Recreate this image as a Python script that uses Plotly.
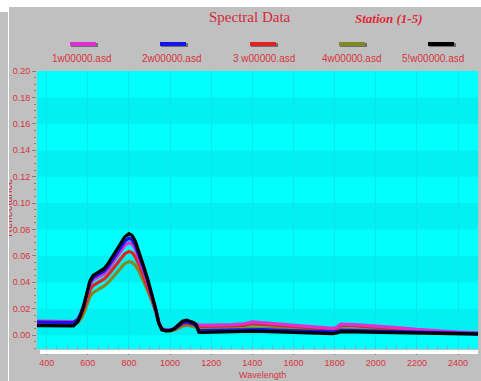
import plotly.graph_objects as go

# Wavelength grid (nm) shared by all five spectra
wavelength = [353, 400, 450, 500, 530, 550, 565, 580, 595, 610, 625, 640, 660, 680,
              700, 720, 740, 760, 780, 800, 815, 830, 850, 870, 890, 910, 930, 945,
              960, 980, 1000, 1020, 1040, 1060, 1080, 1100, 1115, 1128, 1140, 1160,
              1200, 1300, 1360, 1400, 1450, 1500, 1600, 1700, 1790, 1810, 1830, 1900,
              2000, 2100, 2200, 2300, 2400, 2497]

refl_1 = [0.0106, 0.0105, 0.0103, 0.0100, 0.0102, 0.0118, 0.0160, 0.0220, 0.0300, 0.0380,
          0.0418, 0.0430, 0.0443, 0.0465, 0.0500, 0.0545, 0.0595, 0.0642, 0.0680, 0.0700,
          0.0690, 0.0655, 0.0580, 0.0490, 0.0400, 0.0300, 0.0190, 0.0095, 0.0048, 0.0040,
          0.0040, 0.0050, 0.0070, 0.0092, 0.0100, 0.0095, 0.0090, 0.0085, 0.0078, 0.0076,
          0.0076, 0.0080, 0.0086, 0.0100, 0.0094, 0.0088, 0.0077, 0.0064, 0.0052, 0.0060,
          0.0084, 0.0080, 0.0071, 0.0057, 0.0043, 0.0031, 0.0023, 0.0018]

refl_2 = [0.0098, 0.0097, 0.0095, 0.0093, 0.0095, 0.0115, 0.0160, 0.0225, 0.0310, 0.0395,
          0.0435, 0.0448, 0.0462, 0.0485, 0.0522, 0.0570, 0.0622, 0.0672, 0.0712, 0.0735,
          0.0722, 0.0685, 0.0605, 0.0510, 0.0415, 0.0310, 0.0195, 0.0095, 0.0045, 0.0036,
          0.0036, 0.0046, 0.0068, 0.0092, 0.0100, 0.0093, 0.0085, 0.0068, 0.0035, 0.0034,
          0.0035, 0.0037, 0.0039, 0.0043, 0.0041, 0.0038, 0.0032, 0.0028, 0.0024, 0.0026,
          0.0036, 0.0035, 0.0031, 0.0026, 0.0021, 0.0017, 0.0014, 0.0012]

refl_3 = [0.0092, 0.0091, 0.0090, 0.0088, 0.0090, 0.0105, 0.0140, 0.0195, 0.0265, 0.0340,
          0.0375, 0.0388, 0.0402, 0.0425, 0.0458, 0.0498, 0.0542, 0.0585, 0.0617, 0.0633,
          0.0625, 0.0595, 0.0530, 0.0450, 0.0370, 0.0280, 0.0180, 0.0095, 0.0048, 0.0038,
          0.0038, 0.0046, 0.0063, 0.0082, 0.0090, 0.0086, 0.0080, 0.0074, 0.0068, 0.0066,
          0.0066, 0.0069, 0.0074, 0.0086, 0.0081, 0.0076, 0.0066, 0.0055, 0.0045, 0.0052,
          0.0073, 0.0069, 0.0061, 0.0049, 0.0037, 0.0027, 0.0020, 0.0016]

refl_4 = [0.0085, 0.0084, 0.0082, 0.0080, 0.0081, 0.0092, 0.0120, 0.0165, 0.0225, 0.0290,
          0.0322, 0.0335, 0.0350, 0.0372, 0.0400, 0.0436, 0.0475, 0.0513, 0.0542, 0.0557,
          0.0552, 0.0530, 0.0480, 0.0412, 0.0342, 0.0265, 0.0178, 0.0100, 0.0050, 0.0034,
          0.0032, 0.0038, 0.0052, 0.0068, 0.0075, 0.0072, 0.0066, 0.0058, 0.0048, 0.0045,
          0.0045, 0.0047, 0.0050, 0.0056, 0.0053, 0.0050, 0.0043, 0.0036, 0.0030, 0.0034,
          0.0046, 0.0044, 0.0039, 0.0032, 0.0025, 0.0019, 0.0015, 0.0012]

refl_5 = [0.0072, 0.0070, 0.0068, 0.0066, 0.0070, 0.0100, 0.0150, 0.0220, 0.0310, 0.0410,
          0.0450, 0.0465, 0.0480, 0.0505, 0.0545, 0.0595, 0.0650, 0.0705, 0.0745, 0.0768,
          0.0755, 0.0715, 0.0630, 0.0530, 0.0430, 0.0320, 0.0200, 0.0090, 0.0040, 0.0032,
          0.0034, 0.0048, 0.0075, 0.0105, 0.0114, 0.0105, 0.0095, 0.0075, 0.0022, 0.0020,
          0.0022, 0.0024, 0.0026, 0.0030, 0.0028, 0.0025, 0.0019, 0.0016, 0.0012, 0.0016,
          0.0025, 0.0024, 0.0021, 0.0017, 0.0013, 0.0011, 0.0009, 0.0008]

names = ["1w00000.asd", "2w00000.asd", "3 w00000.asd", "4w00000.asd", "5!w00000.asd"]
colors = ["#dc32d4", "#1414e6", "#e02424", "#7f8a26", "#000000"]
series = [refl_1, refl_2, refl_3, refl_4, refl_5]

y_ticks = [0.00, 0.02, 0.04, 0.06, 0.08, 0.10, 0.12, 0.14, 0.16, 0.18, 0.20]
x_ticks = [400, 600, 800, 1000, 1200, 1400, 1600, 1800, 2000, 2200, 2400]

W, H = 481, 381
L, R, T, B = 37, 3, 71, 32
PW, PH = W - L - R, H - T - B


def px(x):
    return (x - L) / PW


def py(y):
    return (H - B - y) / PH


RED = "#d8343e"
GRAY = "#c0c0c0"

fig = go.Figure()

draw_order = [3, 2, 0, 1, 4]
for i in draw_order:
    fig.add_trace(go.Scatter(x=wavelength, y=series[i], mode="lines", name=names[i],
                             line=dict(color=colors[i], width=3.2), showlegend=False))

shapes = []
# alternating horizontal bands in the plot area
for k in range(len(y_ticks) - 1):
    if k % 2 == 0:
        shapes.append(dict(type="rect", xref="paper", yref="y", x0=0, x1=1,
                           y0=y_ticks[k], y1=y_ticks[k + 1], layer="below",
                           fillcolor="#03f0f2", line=dict(width=0)))

# window frame strips
shapes += [
    dict(type="rect", xref="paper", yref="paper", x0=px(8), x1=px(W + 2),
         y0=py(7), y1=py(-2), fillcolor="white", line=dict(width=0), layer="above"),
    dict(type="rect", xref="paper", yref="paper", x0=px(40), x1=px(478),
         y0=py(354), y1=py(350), fillcolor="white", line=dict(width=0), layer="above"),
]

# legend swatches
sw_x = [83, 173, 263, 352, 441]
for cx, c in zip(sw_x, colors):
    shapes.append(dict(type="rect", xref="paper", yref="paper", x0=px(cx - 12), x1=px(cx + 15),
                       y0=py(47), y1=py(43), fillcolor="#6e6e6e", line=dict(width=0), layer="above"))
    shapes.append(dict(type="rect", xref="paper", yref="paper", x0=px(cx - 13), x1=px(cx + 13),
                       y0=py(46), y1=py(42), fillcolor=c, line=dict(width=0), layer="above"))

annotations = []
lab_x = [82, 172, 264, 352, 433]
for cx, n in zip(lab_x, names):
    annotations.append(dict(text=n, xref="paper", yref="paper", x=px(cx), y=py(58),
                            xanchor="center", yanchor="middle", showarrow=False,
                            font=dict(family="Arial, Liberation Sans", size=10, color=RED)))

annotations += [
    dict(text="Spectral Data", xref="paper", yref="paper", x=px(250), y=py(17),
         xanchor="center", yanchor="middle", showarrow=False,
         font=dict(family="Liberation Serif, Times New Roman", size=15, color="#d42a3a")),
    dict(text="<b><i>Station (1-5)</i></b>", xref="paper", yref="paper", x=px(389), y=py(18),
         xanchor="center", yanchor="middle", showarrow=False,
         font=dict(family="Liberation Serif, Times New Roman", size=13, color="#e0283a")),
    dict(text="Wavelength", xref="paper", yref="paper", x=px(262), y=py(375),
         xanchor="center", yanchor="middle", showarrow=False,
         font=dict(family="Arial, Liberation Sans", size=9, color=RED)),
    dict(text="Reflectance", xref="paper", yref="paper", x=px(8), y=py(208),
         xanchor="center", yanchor="middle", showarrow=False, textangle=-90,
         font=dict(family="Arial, Liberation Sans", size=11, color="#c8303a")),
    # gray edge strip and white divider line over the left margin
    dict(text=" ", xref="paper", yref="paper", x=px(0), y=py(12), xanchor="left", yanchor="top",
         width=8, height=380, bgcolor=GRAY, borderpad=0, borderwidth=0, showarrow=False),
    dict(text=" ", xref="paper", yref="paper", x=px(0), y=py(0), xanchor="left", yanchor="top",
         width=8, height=12, bgcolor="white", borderpad=0, borderwidth=0, showarrow=False),
    dict(text=" ", xref="paper", yref="paper", x=px(8), y=py(0), xanchor="left", yanchor="top",
         width=1, height=381, bgcolor="white", borderpad=0, borderwidth=0, showarrow=False),
]

fig.update_layout(
    width=W, height=H,
    margin=dict(l=L, r=R, t=T, b=B, pad=0),
    paper_bgcolor=GRAY,
    plot_bgcolor="#00ffff",
    shapes=shapes,
    annotations=annotations,
    xaxis=dict(range=[353, 2497], tickvals=x_ticks, ticks="outside", ticklen=5,
               tickcolor="#808080", showgrid=True, gridcolor="#0ae6ea", gridwidth=1,
               zeroline=False, showline=False,
               tickfont=dict(family="Arial, Liberation Sans", size=9, color=RED),
               minor=dict(dtick=50, tick0=0, ticks="inside", ticklen=4, tickcolor="#60b8bc",
                          showgrid=False)),
    yaxis=dict(range=[-0.0105, 0.20], tickvals=y_ticks, tickformat=".2f", ticks="outside",
               ticklen=4, tickcolor="#808080", showgrid=False, zeroline=False, showline=False,
               tickfont=dict(family="Arial, Liberation Sans", size=9, color=RED),
               minor=dict(dtick=0.005, tick0=0, ticks="outside", ticklen=2,
                          tickcolor="#808080", showgrid=False)),
)

fig.write_html("out.html")
